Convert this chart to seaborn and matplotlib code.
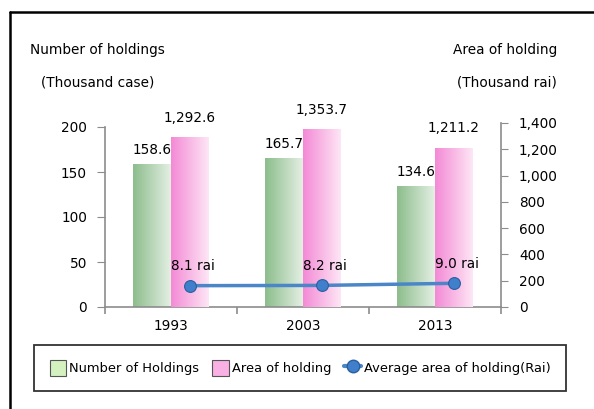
import numpy as np
import pandas as pd
import seaborn as sns
from matplotlib import pyplot as plt
from matplotlib.colors import LinearSegmentedColormap
from matplotlib.lines import Line2D
from matplotlib.patches import Patch

# data
years = ['1993', '2003', '2013']
holdings = [158.6, 165.7, 134.6]          # thousand case
area = [1292.6, 1353.7, 1211.2]           # thousand rai
avg_area = [8.1, 8.2, 9.0]                # rai per holding
holdings_labels = ['158.6', '165.7', '134.6']
area_labels = ['1,292.6', '1,353.7', '1,211.2']
avg_labels = ['8.1 rai', '8.2 rai', '9.0 rai']

sns.set_style('white')
plt.rcParams['font.family'] = ['DejaVu Sans']
plt.rcParams['text.color'] = 'black'
plt.rcParams['xtick.color'] = 'black'
plt.rcParams['ytick.color'] = 'black'
fs = 9.8

fig = plt.figure(figsize=(5.94, 4.09), dpi=100)
ax = fig.add_axes([105/594, 102/409, 396/594, 187/409])
ax2 = ax.twinx()
ax3 = ax.twinx()

# long table, the other series left empty so dodge keeps the two slots
df = pd.DataFrame({
    'year': years * 2,
    'series': ['Number of Holdings'] * 3 + ['Area of holding'] * 3,
    'left': holdings + [np.nan] * 3,
    'right': [np.nan] * 3 + area,
})
order = ['Number of Holdings', 'Area of holding']
sns.barplot(data=df, x='year', y='left', hue='series', hue_order=order,
            width=0.57, errorbar=None, legend=False, ax=ax)
sns.barplot(data=df, x='year', y='right', hue='series', hue_order=order,
            width=0.57, errorbar=None, legend=False, ax=ax2)

green_cm = LinearSegmentedColormap.from_list('g', ['#8dbd8d', '#e3efe3'])
pink_cm = LinearSegmentedColormap.from_list('p', ['#f48ad6', '#fde6f5'])
grad = np.linspace(0, 1, 64).reshape(1, -1)


def shade(axis, cmap, labels, off):
    bars = [p for p in axis.patches if np.isfinite(p.get_height()) and p.get_height() > 0]
    bars.sort(key=lambda p: p.get_x())
    for p, lab in zip(bars, labels):
        x0, w, h = p.get_x(), p.get_width(), p.get_height()
        p.set_facecolor('none')
        p.set_edgecolor('none')
        im = axis.imshow(grad, cmap=cmap, aspect='auto', extent=[x0, x0 + w, 0, h],
                         zorder=2, interpolation='bilinear')
        im.set_clip_path(p)
        axis.annotate(lab, (x0 + w / 2, h), xytext=(0, off), textcoords='offset points',
                      ha='center', va='bottom', fontsize=fs)
    return bars


shade(ax, green_cm, holdings_labels, 5)
pink_bars = shade(ax2, pink_cm, area_labels, 9)

# average area line sits on the pink bar centres, hidden third scale
xs = [p.get_x() + p.get_width() / 2 for p in pink_bars]
ax3.plot(xs, avg_area, color='#4a86c8', lw=2.5, marker='o', ms=8.5,
         mfc='#3f7fcc', mec='#2a5f9e', mew=0.8, zorder=5)
for x, y, lab in zip(xs, avg_area, avg_labels):
    ax3.annotate(lab, (x, y), xytext=(2, 9), textcoords='offset points',
                 ha='center', va='bottom', fontsize=fs)
ax3.set_ylim(0, 71)
ax3.axis('off')

ax.set_xlim(-0.5, 2.5)
ax.set_ylim(0, 200 * 187 / 180)
ax2.set_ylim(0, 1400 * 187 / 184)
ax.set_yticks([0, 50, 100, 150, 200])
ax2.set_yticks(range(0, 1401, 200))
ax2.set_yticklabels([f'{v:,}' for v in range(0, 1401, 200)])
ax.set_xticks([0, 1, 2])
ax.set_xticklabels(years)
ax.set_xticks([-0.5, 0.5, 1.5, 2.5], minor=True)
ax.set_xlabel('')
ax.set_ylabel('')
ax2.set_ylabel('')

spine_c = '#8c8c8c'
for a in (ax, ax2):
    for s in a.spines.values():
        s.set_visible(False)
ax.spines['left'].set_visible(True)
ax.spines['left'].set_bounds(0, 200)
ax.spines['bottom'].set_visible(True)
ax2.spines['right'].set_visible(True)
ax2.spines['right'].set_bounds(0, 1400)
for s in (ax.spines['left'], ax.spines['bottom'], ax2.spines['right']):
    s.set_color(spine_c)
    s.set_linewidth(1.2)

ax.tick_params(axis='y', left=True, length=5.5, color=spine_c, labelsize=fs, pad=7.5)
ax.tick_params(axis='x', which='major', length=0, labelsize=fs, pad=9)
ax.tick_params(axis='x', which='minor', bottom=True, length=5, color=spine_c, width=1.2)
ax2.tick_params(axis='y', right=True, length=5, color=spine_c, labelsize=fs, pad=8)

# axis titles
fig.text(30/594, 1 - 50/409, 'Number of holdings', fontsize=fs, va='center', ha='left')
fig.text(41/594, 1 - 82/409, '(Thousand case)', fontsize=fs, va='center', ha='left')
fig.text(557/594, 1 - 50/409, 'Area of holding', fontsize=fs, va='center', ha='right')
fig.text(557/594, 1 - 82/409, '(Thousand rai)', fontsize=fs, va='center', ha='right')

# legend
handles = [
    Patch(facecolor='#d4f2bf', edgecolor='#555555', lw=0.8),
    Patch(facecolor='#f9b0e4', edgecolor='#555555', lw=0.8),
    Line2D([], [], color='#4a86c8', lw=3, marker='o', ms=9, mfc='#3f7fcc', mec='#2a5f9e'),
]
leg = fig.legend(handles, ['Number of Holdings', 'Area of holding', 'Average area of holding(Rai)'],
                 loc='center', bbox_to_anchor=(300/594, 1 - 368/409), ncol=3, fontsize=9.4,
                 frameon=True, fancybox=False, edgecolor='black', handlelength=1.3,
                 handleheight=1.5, handletextpad=0.2, columnspacing=1.0, borderpad=1.15,
                 borderaxespad=0)
leg.get_frame().set_linewidth(1.3)

# outer frame (top and left edges)
fig.add_artist(Line2D([10/594, 1], [1 - 12/409] * 2, color='black', lw=1.8))
fig.add_artist(Line2D([10/594] * 2, [0, 1 - 12/409], color='black', lw=1.8))

fig.savefig('out.png', dpi=100)
